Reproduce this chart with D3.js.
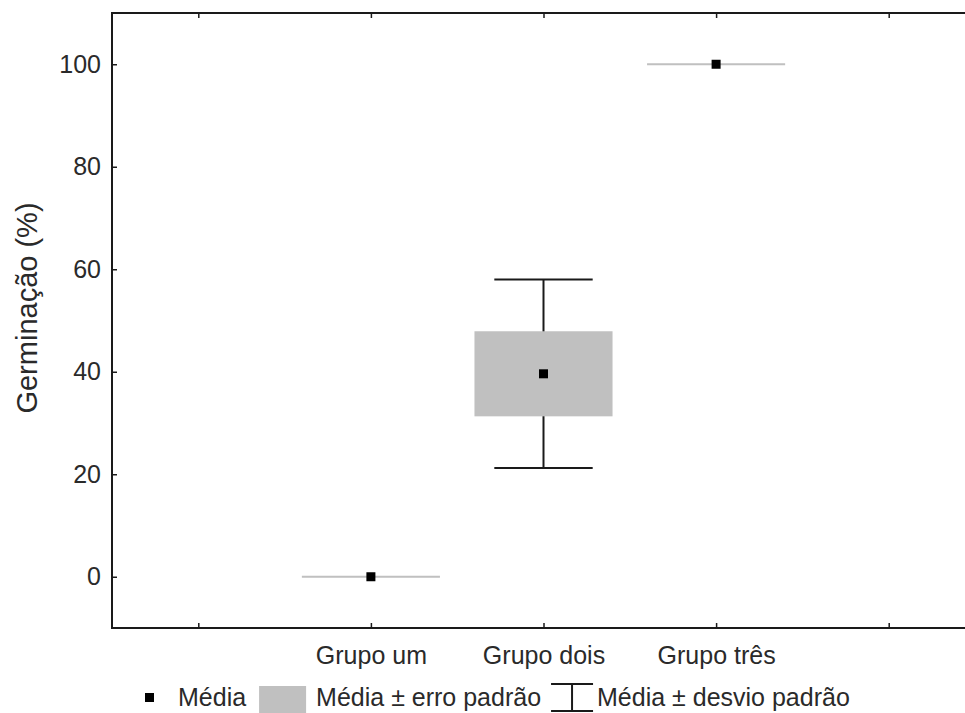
<!DOCTYPE html>
<html>
<head>
<meta charset="utf-8">
<script src="https://cdn.jsdelivr.net/npm/d3@7"></script>
<style>
  body { margin: 0; background: #fff; }
  svg { display: block; font-family: Arial, "Liberation Sans", sans-serif; }
</style>
</head>
<body>
<svg id="chart"></svg>
<script>
// categories on the x axis (slots 1 and 5 are empty)
const slots = ["", "Grupo um", "Grupo dois", "Grupo três", ""];
const groups = ["Grupo um", "Grupo dois", "Grupo três"];
const means = [0, 39.6, 100];
const stdErr = [0, 8.3, 0];
const stdDev = [0, 18.4, 0];
const yTicks = [0, 20, 40, 60, 80, 100];
const legendLabels = ["Média", "Média ± erro padrão", "Média ± desvio padrão"];
const yTitle = "Germinação (%)";

let layout = {"width": 965,
              "height": 713,
              "left": 112,
              "top": 13,
              "right": 975,
              "bottom": 628};

const svg = d3.select("#chart")
  .attr("width", layout.width)
  .attr("height", layout.height);

const xScale = d3.scaleLinear()
  .domain([0.5, slots.length + 0.5])
  .range([layout.left, layout.right]);

const yScale = d3.scaleLinear()
  .domain([-10, 110])
  .range([layout.bottom, layout.top]);

const data = groups.map((g, i) => ({
  name: g,
  pos: slots.indexOf(g) + 1,
  mean: means[i],
  se: stdErr[i],
  sd: stdDev[i]
}));

const boxW = 0.8 * (xScale(2) - xScale(1));
const capW = 0.57 * (xScale(2) - xScale(1));
const ink = "#1a1a1a";
const grey = "#c0c0c0";
const textCol = "#2a2a2a";

// axes
const xIdx = d3.range(1, slots.length + 1);

svg.append("g")
  .attr("transform", `translate(0, ${layout.bottom})`)
  .call(d3.axisBottom(xScale).tickValues(xIdx).tickFormat(d => slots[d - 1]).tickSizeInner(-5).tickSizeOuter(0))
  .call(g => g.select(".domain").remove())
  .call(g => g.selectAll("line").attr("stroke", ink).attr("stroke-width", 1.5))
  .call(g => g.selectAll("text").attr("y", 36).attr("dy", null)
    .attr("font-size", 25).attr("fill", textCol).attr("font-family", "Arial, 'Liberation Sans', sans-serif"));

svg.append("g")
  .attr("transform", `translate(0, ${layout.top})`)
  .call(d3.axisTop(xScale).tickValues(xIdx).tickFormat("").tickSizeInner(-5).tickSizeOuter(0))
  .call(g => g.select(".domain").remove())
  .call(g => g.selectAll("line").attr("stroke", ink).attr("stroke-width", 1.5));

svg.append("g")
  .attr("transform", `translate(${layout.left}, 0)`)
  .call(d3.axisLeft(yScale).tickValues(yTicks).tickSizeInner(-5).tickSizeOuter(0).tickPadding(11))
  .call(g => g.select(".domain").remove())
  .call(g => g.selectAll("line").attr("stroke", ink).attr("stroke-width", 1.5))
  .call(g => g.selectAll("text").attr("font-size", 25).attr("fill", textCol)
    .attr("font-family", "Arial, 'Liberation Sans', sans-serif"));

// frame
svg.append("rect")
  .attr("x", layout.left)
  .attr("y", layout.top)
  .attr("width", layout.right - layout.left)
  .attr("height", layout.bottom - layout.top)
  .attr("fill", "none")
  .attr("stroke", ink)
  .attr("stroke-width", 2);

// y title
svg.append("text")
  .attr("transform", `translate(37, 308) rotate(-90)`)
  .attr("text-anchor", "middle")
  .attr("font-size", 29)
  .attr("fill", textCol)
  .text(yTitle);

const marks = svg.append("g");

// whiskers (mean ± sd)
const wh = marks.selectAll(".whisker")
  .data(data.filter(d => d.sd > 0))
  .join("g")
  .attr("class", "whisker")
  .attr("stroke", ink)
  .attr("stroke-width", 2);

wh.append("line")
  .attr("x1", d => xScale(d.pos)).attr("x2", d => xScale(d.pos))
  .attr("y1", d => yScale(d.mean + d.sd)).attr("y2", d => yScale(d.mean - d.sd));
wh.append("line")
  .attr("x1", d => xScale(d.pos) - capW / 2).attr("x2", d => xScale(d.pos) + capW / 2)
  .attr("y1", d => yScale(d.mean + d.sd)).attr("y2", d => yScale(d.mean + d.sd));
wh.append("line")
  .attr("x1", d => xScale(d.pos) - capW / 2).attr("x2", d => xScale(d.pos) + capW / 2)
  .attr("y1", d => yScale(d.mean - d.sd)).attr("y2", d => yScale(d.mean - d.sd));

// boxes (mean ± se); a zero-width box shows as a thin grey line
marks.selectAll(".box")
  .data(data)
  .join("rect")
  .attr("class", "box")
  .attr("x", d => xScale(d.pos) - boxW / 2)
  .attr("width", boxW)
  .attr("y", d => Math.min(yScale(d.mean + d.se), yScale(d.mean) - 1))
  .attr("height", d => Math.max(2, yScale(d.mean - d.se) - yScale(d.mean + d.se)))
  .attr("fill", grey);

// mean markers
const sq = 9;
marks.selectAll(".mean")
  .data(data)
  .join("rect")
  .attr("class", "mean")
  .attr("x", d => xScale(d.pos) - sq / 2)
  .attr("y", d => yScale(d.mean) - sq / 2)
  .attr("width", sq)
  .attr("height", sq)
  .attr("fill", "#000");

// legend
const legend = svg.append("g");
const baseY = 706;
let cx = 145;

// item 1: mean square
legend.append("rect").attr("x", cx).attr("y", 693).attr("width", sq).attr("height", sq).attr("fill", "#000");
cx += sq + 24;
let t = legend.append("text").attr("x", cx).attr("y", baseY).attr("font-size", 25).attr("fill", textCol).text(legendLabels[0]);
cx += t.node().getComputedTextLength() + 13;

// item 2: grey box
legend.append("rect").attr("x", cx).attr("y", 686).attr("width", 47).attr("height", 30).attr("fill", grey);
cx += 47 + 10;
t = legend.append("text").attr("x", cx).attr("y", baseY).attr("font-size", 25).attr("fill", textCol).text(legendLabels[1]);
cx += t.node().getComputedTextLength() + 10;

// item 3: whisker icon
const icon = legend.append("g").attr("stroke", ink).attr("stroke-width", 2);
icon.append("line").attr("x1", cx).attr("x2", cx + 42).attr("y1", 711).attr("y2", 711);
icon.append("line").attr("x1", cx).attr("x2", cx + 42).attr("y1", 684).attr("y2", 684);
icon.append("line").attr("x1", cx + 21).attr("x2", cx + 21).attr("y1", 684).attr("y2", 711);
cx += 42 + 4;
legend.append("text").attr("x", cx).attr("y", baseY).attr("font-size", 25).attr("fill", textCol).text(legendLabels[2]);
</script>
</body>
</html>
